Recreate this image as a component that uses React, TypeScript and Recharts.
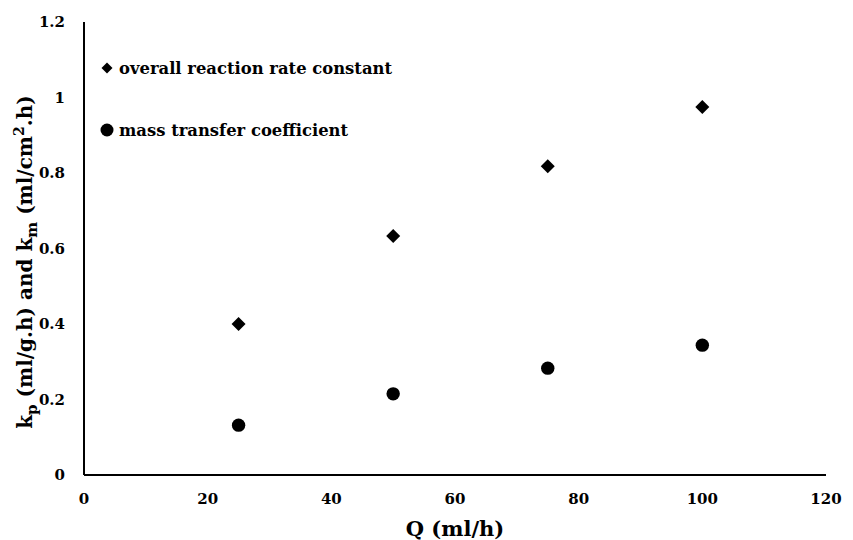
import React from 'react';
import { ScatterChart, Scatter, XAxis, YAxis } from 'recharts';

const flowRates = [25, 50, 75, 100];
const overallRate = [0.4, 0.633, 0.818, 0.975];
const massTransfer = [0.132, 0.215, 0.283, 0.344];
const xTicks = [0, 20, 40, 60, 80, 100, 120];
const yTicks = [0, 0.2, 0.4, 0.6, 0.8, 1, 1.2];
const seriesNames = ['overall reaction rate constant', 'mass transfer coefficient'];

const overallData = flowRates.map((q, i) => ({ q, v: overallRate[i] }));
const massData = flowRates.map((q, i) => ({ q, v: massTransfer[i] }));

const FONT = '"DejaVu Serif", "Liberation Serif", serif';

const Diamond = (props: any) => {
  const { cx, cy } = props;
  const r = 7;
  return <path d={`M${cx},${cy - r}L${cx + r},${cy}L${cx},${cy + r}L${cx - r},${cy}Z`} fill="#000" />;
};

const Dot = (props: any) => {
  const { cx, cy } = props;
  return <circle cx={cx} cy={cy} r={6.7} fill="#000" />;
};

const YLabel = () => (
  <text
    x={0}
    y={0}
    transform="translate(32,262) rotate(-90)"
    textAnchor="middle"
    fontFamily={FONT}
    fontWeight="bold"
    fontSize={20}
    fill="#000"
  >
    <tspan>k</tspan>
    <tspan fontSize={15} dy={5}>p</tspan>
    <tspan dy={-5}> (ml/g.h) and k</tspan>
    <tspan fontSize={15} dy={5}>m</tspan>
    <tspan dy={-5}> (ml/cm</tspan>
    <tspan fontSize={14} dy={-8}>2</tspan>
    <tspan dy={8}>.h)</tspan>
  </text>
);

const LegendBox = () => (
  <div
    style={{
      position: 'absolute',
      left: 100,
      top: 56,
      fontFamily: FONT,
      fontWeight: 'bold',
      fontSize: 16.4,
      color: '#000',
      whiteSpace: 'nowrap',
    }}
  >
    <div style={{ display: 'flex', alignItems: 'center', height: 24 }}>
      <svg width={14} height={14} style={{ marginRight: 5 }}>
        <path d="M7,1.5L12.5,7L7,12.5L1.5,7Z" fill="#000" />
      </svg>
      <span>{seriesNames[0]}</span>
    </div>
    <div style={{ display: 'flex', alignItems: 'center', height: 24, marginTop: 38 }}>
      <svg width={14} height={14} style={{ marginRight: 5 }}>
        <circle cx={7} cy={7} r={6.5} fill="#000" />
      </svg>
      <span>{seriesNames[1]}</span>
    </div>
  </div>
);

export default function App() {
  return (
    <div style={{ position: 'absolute', left: 0, top: 0, width: 853, height: 540, background: '#fff' }}>
      <ScatterChart width={853} height={540} margin={{ top: 22, right: 27, left: 0, bottom: 0 }}>
        <XAxis
          type="number"
          dataKey="q"
          domain={[0, 120]}
          ticks={xTicks}
          axisLine={{ stroke: '#000', strokeWidth: 2 }}
          tickLine={false}
          tickSize={0}
          tickMargin={18}
          height={65}
          tick={{ fill: '#000', fontFamily: FONT, fontWeight: 'bold', fontSize: 15 }}
          label={{ value: 'Q (ml/h)', position: 'insideBottom', offset: 4, fill: '#000', fontFamily: FONT, fontWeight: 'bold', fontSize: 21 }}
        />
        <YAxis
          type="number"
          dataKey="v"
          domain={[0, 1.2]}
          ticks={yTicks}
          axisLine={{ stroke: '#000', strokeWidth: 2 }}
          tickLine={false}
          tickSize={0}
          tickMargin={19}
          width={84}
          tick={{ fill: '#000', fontFamily: FONT, fontWeight: 'bold', fontSize: 15 }}
          label={<YLabel />}
        />
        <Scatter name={seriesNames[0]} data={overallData} shape={<Diamond />} isAnimationActive={false} />
        <Scatter name={seriesNames[1]} data={massData} shape={<Dot />} isAnimationActive={false} />
      </ScatterChart>
      <LegendBox />
    </div>
  );
}
